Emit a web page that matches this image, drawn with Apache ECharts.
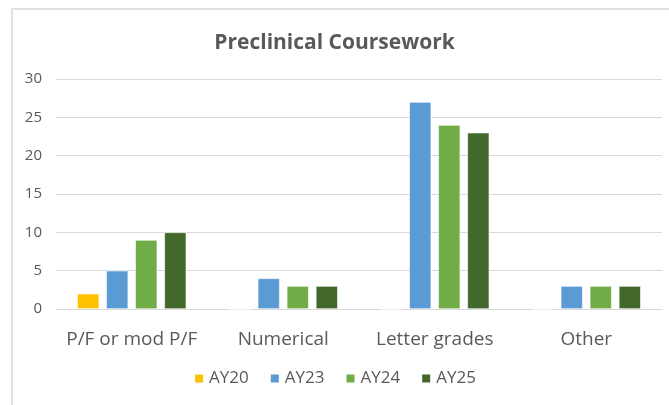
<!DOCTYPE html>
<html>
<head>
<meta charset="utf-8">
<script src="https://cdn.jsdelivr.net/npm/echarts@6/dist/echarts.min.js"></script>
<style>
  html, body { margin: 0; padding: 0; background: #fff; }
  #chart { width: 669px; height: 405px; }
</style>
</head>
<body>
<div id="chart"></div>
<script>
var categories = ['P/F or mod P/F', 'Numerical', 'Letter grades', 'Other'];
var seriesNames = ['AY20', 'AY23', 'AY24', 'AY25'];
var ay20 = [2, 0, 0, 0];
var ay23 = [5, 4, 27, 3];
var ay24 = [9, 3, 24, 3];
var ay25 = [10, 3, 23, 3];
var colors = ['#FFC000', '#5B9BD5', '#70AD47', '#43682B'];

var chart = echarts.init(document.getElementById('chart'));
var font = '"Open Sans", sans-serif';

function makeBar(name, data, color) {
	return {
		name: name,
		type: 'bar',
		data: data,
		barWidth: 22,
		barGap: '32%',
		itemStyle: {
			color: color,
			borderColor: '#ffffff',
			borderWidth: 0.6
		}
	};
}

var option = {
	animation: false,
	color: colors,
	title: {
		text: 'Preclinical Coursework',
		left: 'center',
		top: 28,
		textStyle: {
			color: '#595959',
			fontFamily: font,
			fontSize: 21,
			fontWeight: 'bold'
		}
	},
	graphic: [{
		type: 'polyline',
		shape: { points: [[12, 405], [12, 9], [669, 9]] },
		style: { stroke: '#d9d9d9', fill: null, lineWidth: 1.5 },
		silent: true
	}],
	legend: {
		bottom: 13,
		left: 'center',
		itemWidth: 10,
		itemHeight: 10,
		itemGap: 20,
		icon: 'rect',
		textStyle: { color: '#595959', fontFamily: font, fontSize: 17 },
		data: seriesNames
	},
	grid: {
		left: 56,
		right: 7,
		top: 79,
		bottom: 96
	},
	xAxis: {
		type: 'category',
		data: categories,
		axisLine: { lineStyle: { color: '#d9d9d9' } },
		axisTick: { show: false },
		axisLabel: {
			interval: 0,
			color: '#595959',
			fontFamily: font,
			fontSize: 19,
			margin: 21
		}
	},
	yAxis: {
		type: 'value',
		min: 0,
		max: 30,
		interval: 5,
		axisLine: { show: false },
		axisTick: { show: false },
		splitLine: { lineStyle: { color: '#d9d9d9' } },
		axisLabel: {
			color: '#595959',
			fontFamily: font,
			fontSize: 15,
			margin: 14
		}
	},
	series: [
		makeBar(seriesNames[0], ay20, colors[0]),
		makeBar(seriesNames[1], ay23, colors[1]),
		makeBar(seriesNames[2], ay24, colors[2]),
		makeBar(seriesNames[3], ay25, colors[3])
	]
};

chart.setOption(option);
</script>
</body>
</html>
